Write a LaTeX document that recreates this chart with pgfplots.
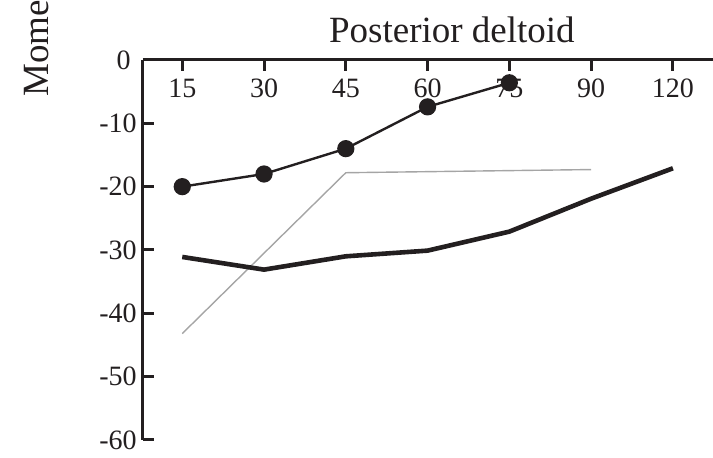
\documentclass[border=0pt]{standalone}
\usepackage{fontspec}
\setmainfont{Liberation Serif}
\usepackage{pgfplots}
\pgfplotsset{compat=1.18}
\definecolor{ink}{RGB}{35,31,32}
\definecolor{lgray}{RGB}{165,165,165}
\begin{document}
\begin{tikzpicture}
\begin{axis}[
  scale only axis, width=285pt, height=190pt,
  xmin=-0.48, xmax=6.49, ymin=-60, ymax=0,
  axis x line*=top, axis y line*=left,
  axis line style={ink, line width=1.5pt, -},
  tick align=inside,
  major tick length=5.5pt,
  tick style={ink, line width=1.5pt},
  xtick={0,1,2,3,4,5,6},
  xticklabels={15,30,45,60,75,90,120},
  ytick={-60,-50,-40,-30,-20,-10,0},
  yticklabels={-60,-50,-40,-30,-20,-10,0\hspace*{3pt}},
  ticklabel style={font=\fontsize{14}{16}\selectfont, text=ink},
  xticklabel style={anchor=base, yshift=-19pt},
  yticklabel style={anchor=east, inner sep=0pt, xshift=-3pt},
  clip=false,
]
\coordinate (O) at (rel axis cs:0,0);
\addplot[lgray, line width=0.7pt] coordinates {(0,-43.2) (2,-17.8) (5,-17.3)};
\addplot[ink, line width=2.3pt] coordinates {(0,-31.1) (1,-33.1) (2,-31.0) (3,-30.1) (4,-27.1) (5,-21.9) (6,-17.1)};
\addplot[ink, line width=1.2pt, mark=*, mark size=3.7pt, mark options={fill=ink, draw=ink}] coordinates {(0,-20.0) (1,-18.0) (2,-14.0) (3,-7.4) (4,-3.6)};
\node[font=\fontsize{18.5}{22}\selectfont, text=ink, anchor=base] at ([yshift=8.5pt]rel axis cs:0.542,1) {Posterior deltoid};
\node[font=\fontsize{18.5}{22}\selectfont, text=ink, rotate=90, anchor=base west, inner sep=0pt] at ([xshift=-47pt]rel axis cs:0,0.9026) {Mome};
\end{axis}
\pgfresetboundingbox
\path[use as bounding box] ([shift={(-71.5pt,-9pt)}]O) rectangle ([shift={(285pt,220pt)}]O);
\end{tikzpicture}
\end{document}
